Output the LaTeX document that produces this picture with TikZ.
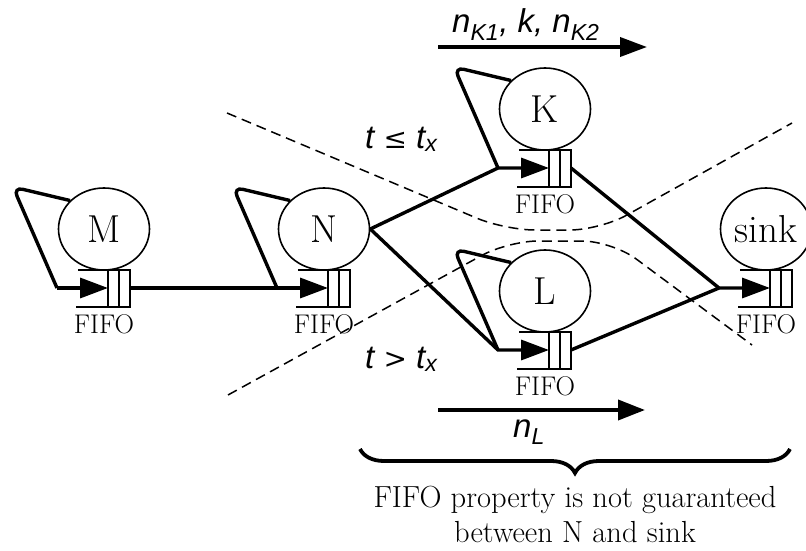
\documentclass[tikz,border=0pt]{standalone}
\usepackage{fontspec}
\newfontfamily\lsans{Liberation Sans}
\newfontfamily\symf{DejaVu Serif}
\usetikzlibrary{shapes.geometric,arrows.meta,decorations.pathreplacing}

\newcommand\qserver[4]{%
  \node[srv] (#1) at (#2,#3) {#4};
  \coordinate (#1q) at (#2+4,#3+59);
  \coordinate (#1o) at (#2+26,#3+59);
  \coordinate (#1c) at (#2-47,#3+59);
  \coordinate (#1t) at (#2-91,#3-42);
  \draw[qline] (#2-26,#3+41) -- (#2+26,#3+41) -- (#2+26,#3+78) -- (#2-28,#3+78);
  \draw[qline] (#2+4,#3+41) -- (#2+4,#3+78) (#2+15,#3+41) -- (#2+15,#3+78);
  \node[fifo] (#1f) at (#2,#3+104) {FIFO};
}

\begin{document}
\begin{tikzpicture}[x=1pt,y=-1pt,
  srv/.style={draw, ellipse, line width=1.6pt, minimum width=91pt, minimum height=82pt, inner sep=0pt, font=\fontsize{39}{41}\selectfont},
  qline/.style={line width=1.8pt},
  conn/.style={line width=3.4pt},
  tip/.style={-{Triangle[length=28pt,width=20pt]}},
  fifo/.style={anchor=base, font=\fontsize{27}{29}\selectfont, inner sep=0pt},
  lab/.style={font=\lsans\itshape\fontsize{33}{36}\selectfont, inner sep=0pt, anchor=base west},
  sep/.style={dash pattern=on 10pt off 6pt, line width=1.5pt},
  txt/.style={font=\fontsize{30.5}{36}\selectfont, inner sep=0pt, anchor=base},
]
\fill[white] (0,0) rectangle (806,551);
\useasboundingbox (0,0) rectangle (806,551);
\clip (0,0) rectangle (806,551);

% separators
\draw[sep, rounded corners=30pt] (227,113) -- (505,230) -- (600,230) -- (792,123);
\draw[sep, rounded corners=30pt] (228,395) -- (508,241) -- (612,241) -- (752,345);

% servers
\qserver{M}{104}{229}{M}
\qserver{N}{324}{229}{N}
\qserver{K}{545}{109}{K}
\qserver{L}{545}{291}{L}
\qserver{S}{766}{229}{sink}

% feedback loops
\draw[conn, rounded corners=10pt] (M.140) -- (Mt) -- (Mc);
\draw[conn, rounded corners=10pt] (N.140) -- (Nt) -- (Nc);
\draw[conn, rounded corners=10pt] (K.140) -- (Kt) -- (Kc);
\draw[conn, rounded corners=10pt] (L.140) -- (Lt) -- (Lc);

% connections
\draw[conn,tip] (Mc) -- (Mq);
\draw[conn,tip] (Mo) -- (Nq);
\draw[conn,tip] (N.east) -- (Kc) -- (Kq);
\draw[conn,tip] (N.east) -- (Lc) -- (Lq);
\draw[conn,tip] (Ko) -- (Sc) -- (Sq);
\draw[conn] (Lo) -- (Sc);

% flow arrows
\coordinate (ta) at (438,47);
\coordinate (tb) at (647,47);
\draw[line width=3.8pt, -{Triangle[length=27pt,width=19pt]}] (ta) -- (tb);
\node[lab] (lk) at (452,33) {n\textsubscript{K1}, k, n\textsubscript{K2}};
\coordinate (ba) at (438,410);
\coordinate (bb) at (645,410);
\draw[line width=3.8pt, -{Triangle[length=27pt,width=20pt]}] (ba) -- (bb);
\node[lab] (ll) at (513,437) {n\textsubscript{L}};

% conditions
\node[lab] (c1) at (365,148) {t {\symf\upshape\fontsize{28}{30}\selectfont ≤} t\textsubscript{x}};
\node[lab] (c2) at (365,368) {t {\symf\upshape\fontsize{28}{30}\selectfont >} t\textsubscript{x}};

% brace and text
\coordinate (bl) at (360,449);
\coordinate (br) at (790,449);
\draw[line width=3.8pt, decorate, decoration={brace, mirror, amplitude=24pt}] (bl) -- (br);
\node[txt] (t1) at (575,507) {FIFO property is not guaranteed};
\node[txt] (t2) at (575,542) {between N and sink};
\end{tikzpicture}
\end{document}
